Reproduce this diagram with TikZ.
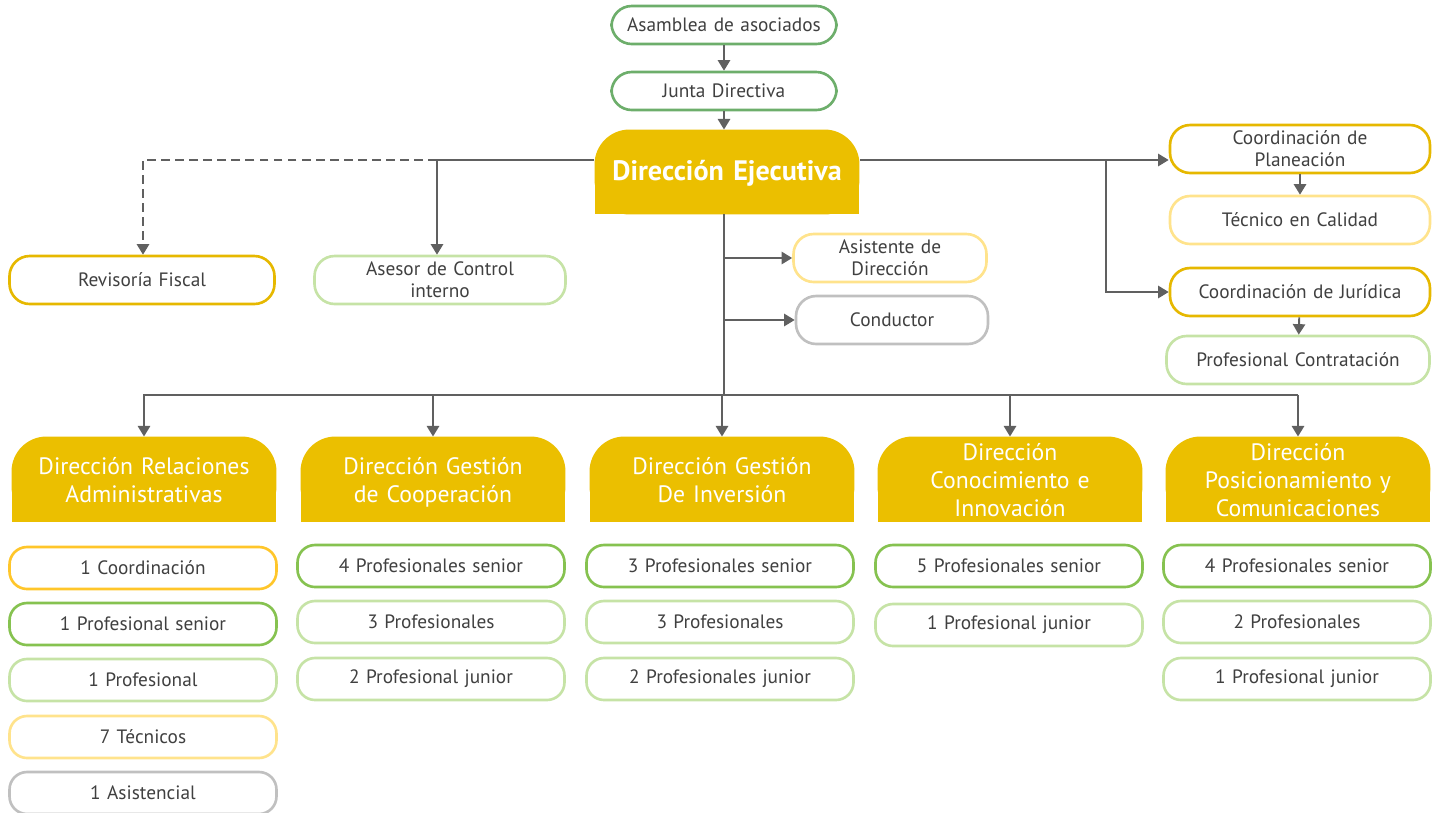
\documentclass[tikz,border=0pt]{standalone}
\usepackage{fontspec}
\setmainfont{PT Sans}
\usepackage{tikz}
\usetikzlibrary{arrows.meta,backgrounds}
\newcommand{\pu}{0.02cm}

\definecolor{gold}{HTML}{EBBF00}
\definecolor{goldline}{HTML}{E6B800}
\definecolor{coordline}{HTML}{FFC62A}
\definecolor{paleyellow}{HTML}{FFE38C}
\definecolor{topgreen}{HTML}{6DAE6B}
\definecolor{darkgreen}{HTML}{86C250}
\definecolor{palegreen}{HTML}{C6E3A6}
\definecolor{palegray}{HTML}{C0C0C0}
\definecolor{linegray}{HTML}{606060}
\definecolor{txtgray}{HTML}{404040}

\tikzset{
  pill/.style={draw=#1, line width=1.5pt, fill=white, rounded corners=11.5pt,
    minimum height=48*\pu, text width=230*\pu, align=center,
    text=txtgray, font=\fontsize{11}{12.5}\selectfont, inner sep=0pt},
  staff/.style={pill=#1, minimum height=42*\pu, rounded corners=10pt,
    minimum width=267*\pu, text width=240*\pu},
  dirbox/.style={minimum width=265*\pu, text width=245*\pu,
    align=center, text=white, inner sep=0pt,
    execute at begin node=\rule{0pt}{15.5pt}, execute at end node=\strut,
    font=\fontsize{13.5}{15.7}\selectfont},
  conn/.style={draw=linegray, line width=1.1pt},
  arrow/.style={conn, -{Triangle[length=6pt,width=7pt]}}
}

\begin{document}
\begin{tikzpicture}[x=\pu,y=-\pu]
  \useasboundingbox (0,0) rectangle (1441,812);

  % top of the chart
  \node[pill=topgreen, minimum width=225*\pu, minimum height=38*\pu, text width=210*\pu] (asam) at (724,25) {Asamblea de asociados};
  \node[pill=topgreen, minimum width=225*\pu, minimum height=38*\pu, text width=210*\pu] (junta) at (724,91) {Junta Directiva};
  \node[dirbox, text width=265*\pu, font=\bfseries\fontsize{16}{18}\selectfont] (dej) at (727,172) {Dirección Ejecutiva};

  \node[pill=goldline, minimum width=265*\pu] (rev) at (142,280) {Revisoría Fiscal};
  \node[pill=palegreen, minimum width=251*\pu] (ase) at (440,280) {Asesor de Control\\interno};
  \node[pill=paleyellow, minimum width=193*\pu, text width=170*\pu] (asis) at (890,258) {Asistente de\\Dirección};
  \node[pill=palegray, minimum width=192*\pu, text width=170*\pu] (cond) at (892,320) {Conductor};

  \node[pill=goldline, minimum width=260*\pu] (plan) at (1300,149) {Coordinación de\\Planeación};
  \node[pill=paleyellow, minimum width=260*\pu] (tec) at (1300,220) {Técnico en Calidad};
  \node[pill=goldline, minimum width=260*\pu] (jur) at (1300,292) {Coordinación de Jurídica};
  \node[pill=palegreen, minimum width=263*\pu] (contr) at (1298,360) {Profesional Contratación};

  % direcciones
  \node[dirbox] (d1) at (144,479) {Dirección Relaciones\\Administrativas};
  \node[dirbox] (d2) at (433,479) {Dirección Gestión\\de Cooperación};
  \node[dirbox] (d3) at (722,479) {Dirección Gestión\\De Inversión};
  \node[dirbox] (d4) at (1010,479) {Dirección\\Conocimiento e\\Innovación};
  \node[dirbox] (d5) at (1298,479) {Dirección\\Posicionamiento y\\Comunicaciones};

  \begin{scope}[on background layer]
    \foreach \n in {dej,d1,d2,d3,d4,d5}{
      \coordinate (\n-top) at ([yshift=0.85cm]\n.center);
      \fill[gold, rounded corners=0.7cm] ([xshift=-2.65cm,yshift=-0.85cm]\n.center) rectangle ([xshift=2.65cm]\n-top);
      \fill[gold] ([xshift=-2.65cm,yshift=-0.85cm]\n.center) rectangle ([xshift=2.65cm]\n.center);
    }
  \end{scope}

  % personal
  \node[staff=coordline] (a1) at (143,568) {1 Coordinación};
  \node[staff=darkgreen] (a2) at (143,624) {1 Profesional senior};
  \node[staff=palegreen] (a3) at (143,680) {1 Profesional};
  \node[staff=paleyellow] (a4) at (143,737) {7 Técnicos};
  \node[staff=palegray] (a5) at (143,793) {1 Asistencial};

  \node[staff=darkgreen] (b1) at (431,566) {4 Profesionales senior};
  \node[staff=palegreen] (b2) at (431,622) {3 Profesionales};
  \node[staff=palegreen] (b3) at (431,679) {2 Profesional junior};

  \node[staff=darkgreen] (c1) at (720,566) {3 Profesionales senior};
  \node[staff=palegreen] (c2) at (720,622) {3 Profesionales};
  \node[staff=palegreen] (c3) at (720,679) {2 Profesionales junior};

  \node[staff=darkgreen] (e1) at (1009,566) {5 Profesionales senior};
  \node[staff=palegreen] (e2) at (1009,625) {1 Profesional junior};

  \node[staff=darkgreen] (f1) at (1297,566) {4 Profesionales senior};
  \node[staff=palegreen] (f2) at (1297,622) {2 Profesionales};
  \node[staff=palegreen] (f3) at (1297,679) {1 Profesional junior};

  % conectores
  \coordinate (l1) at (437,160);
  \coordinate (l2) at (143,160);
  \coordinate (r1) at (1106,160);
  \coordinate (bus) at (724,395);

  \draw[arrow] (asam) -- (junta);
  \draw[arrow] (junta) -- (junta.south |- dej-top);
  \draw[arrow] (l1 -| dej.west) -- (l1) -- (l1 |- ase.north);
  \draw[arrow, dash pattern=on 5pt off 3pt] (l1) -- (l2) -- (l2 |- rev.north);
  \draw[arrow] (r1 -| dej.east) -- (r1 -| plan.west);
  \draw[arrow] (r1) |- (jur.west);
  \draw[arrow] (plan) -- (tec);
  \draw[arrow] (jur) -- (contr);
  \draw[conn] ([yshift=-1.7cm]bus |- dej-top) -- (bus);
  \draw[arrow] (bus |- asis.west) -- (asis.west);
  \draw[arrow] (bus |- cond.west) -- (cond.west);
  \draw[conn] (l2 |- bus) -- (bus -| d5);
  \foreach \d in {d1,d2,d3,d4,d5}
    \draw[arrow] (bus -| \d) -- (\d-top);
\end{tikzpicture}
\end{document}
